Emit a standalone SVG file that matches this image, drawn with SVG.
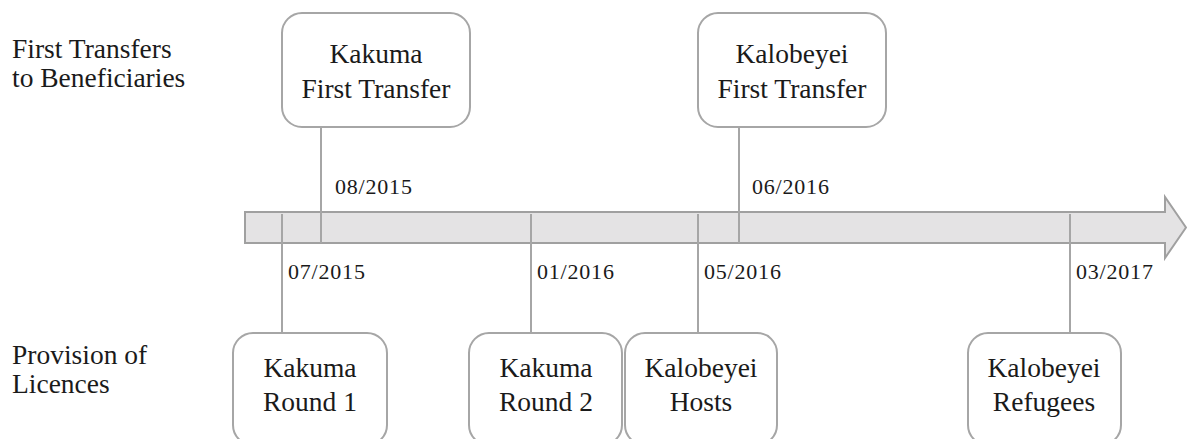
<svg xmlns="http://www.w3.org/2000/svg" width="1187" height="439" viewBox="0 0 1187 439">
<style>
.box{fill:#ffffff;stroke:#a6a6a6;stroke-width:2}
.ln{stroke:#a6a6a6;stroke-width:2;fill:none}
.t{font-family:"Liberation Serif",serif;font-size:27.5px;fill:#1a1a1a}
.c{text-anchor:middle}
.d{font-family:"Liberation Serif",serif;font-size:22px;letter-spacing:0.8px;fill:#1a1a1a}
</style>
<rect width="1187" height="439" fill="#ffffff"/>
<g id="labels">
<text class="t" x="12" y="58">First Transfers</text>
<text class="t" x="12" y="87">to Beneficiaries</text>
<text class="t" x="12" y="364">Provision of</text>
<text class="t" x="12" y="393">Licences</text>
</g>
<g id="timeline">
<polygon points="245,212 1165,212 1165,197 1186,227.5 1165,258 1165,243 245,243" fill="#e4e3e4" stroke="#a0a0a0" stroke-width="2"/>
</g>
<g id="connectors">
<line class="ln" x1="321" y1="127" x2="321" y2="243"/>
<line class="ln" x1="739" y1="127" x2="739" y2="243"/>
<line class="ln" x1="282" y1="214" x2="282" y2="333"/>
<line class="ln" x1="531" y1="214" x2="531" y2="333"/>
<line class="ln" x1="698" y1="214" x2="698" y2="333"/>
<line class="ln" x1="1070" y1="214" x2="1070" y2="333"/>
</g>
<g id="dates">
<text class="d" x="335" y="194">08/2015</text>
<text class="d" x="752" y="194">06/2016</text>
<text class="d" x="288" y="279">07/2015</text>
<text class="d" x="537" y="279">01/2016</text>
<text class="d" x="704" y="279">05/2016</text>
<text class="d" x="1076" y="279">03/2017</text>
</g>
<g id="kakuma-first-transfer">
<rect class="box" x="282" y="13" width="188" height="114" rx="20"/>
<text class="t c" x="376" y="63">Kakuma</text>
<text class="t c" x="376" y="98">First Transfer</text>
</g>
<g id="kalobeyei-first-transfer">
<rect class="box" x="698" y="13" width="188" height="114" rx="20"/>
<text class="t c" x="792" y="63">Kalobeyei</text>
<text class="t c" x="792" y="98">First Transfer</text>
</g>
<g id="kakuma-round-1">
<rect class="box" x="233" y="333" width="154" height="112" rx="20"/>
<text class="t c" x="310" y="377">Kakuma</text>
<text class="t c" x="310" y="411">Round 1</text>
</g>
<g id="kakuma-round-2">
<rect class="box" x="469" y="333" width="153" height="112" rx="20"/>
<text class="t c" x="546" y="377">Kakuma</text>
<text class="t c" x="546" y="411">Round 2</text>
</g>
<g id="kalobeyei-hosts">
<rect class="box" x="625" y="333" width="152" height="112" rx="20"/>
<text class="t c" x="701" y="377">Kalobeyei</text>
<text class="t c" x="701" y="411">Hosts</text>
</g>
<g id="kalobeyei-refugees">
<rect class="box" x="968" y="333" width="153" height="112" rx="20"/>
<text class="t c" x="1044" y="377">Kalobeyei</text>
<text class="t c" x="1044" y="411">Refugees</text>
</g>
</svg>
